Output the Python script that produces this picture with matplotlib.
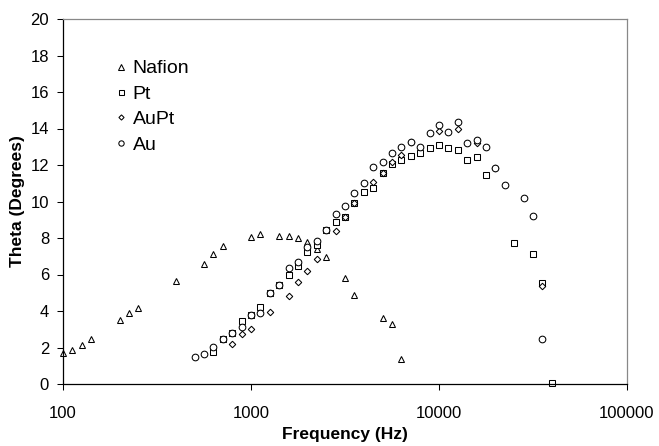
import matplotlib
matplotlib.use("Agg")
import matplotlib.pyplot as plt

plt.rcParams['font.family'] = ['Liberation Sans', 'DejaVu Sans']

# Nafion (triangles)
nafion_freq = [100, 112, 126, 141, 200, 224, 251, 398, 562, 631, 708, 1000, 1122,
               1413, 1585, 1778, 1995, 2239, 2512, 3162, 3548, 5012, 5623, 6310]
nafion_theta = [1.70, 1.85, 2.15, 2.48, 3.53, 3.89, 4.19, 5.63, 6.60, 7.13, 7.55, 8.03, 8.21,
                8.10, 8.10, 7.98, 7.76, 7.37, 6.95, 5.80, 4.88, 3.60, 3.27, 1.35]

# Pt (squares)
pt_freq = [631, 708, 794, 891, 1000, 1122, 1259, 1413, 1585, 1778, 1995, 2239, 2512,
           2818, 3162, 3548, 3981, 4467, 5012, 5623, 6310, 7079, 7943, 8913, 10000,
           11220, 12589, 14125, 15849, 17783, 25119, 31623, 35481, 39811]
pt_theta = [1.75, 2.48, 2.79, 3.45, 3.78, 4.22, 5.00, 5.45, 5.96, 6.49, 7.22, 7.60, 8.43,
            8.89, 9.15, 9.93, 10.50, 10.76, 11.58, 12.06, 12.28, 12.52, 12.65, 12.92, 13.07,
            12.91, 12.82, 12.26, 12.45, 11.45, 7.70, 7.10, 5.52, 0.08]

# AuPt (diamonds)
aupt_freq = [794, 891, 1000, 1259, 1585, 1778, 1995, 2239, 2818, 3162, 3548, 4467,
             5012, 5623, 6310, 7079, 10000, 12589, 15849, 19953, 35481]
aupt_theta = [2.21, 2.76, 3.02, 3.96, 4.84, 5.58, 6.18, 6.85, 8.41, 9.15, 9.93, 11.09,
              11.58, 12.19, 12.57, 13.25, 13.84, 13.95, 13.20, 11.82, 5.36]

# Au (circles)
au_freq = [501, 562, 631, 708, 794, 891, 1000, 1122, 1259, 1413, 1585, 1778, 1995,
           2239, 2512, 2818, 3162, 3548, 3981, 4467, 5012, 5623, 6310, 7079, 7943,
           8913, 10000, 11220, 12589, 14125, 15849, 17783, 19953, 22387, 28184,
           31623, 35481]
au_theta = [1.48, 1.63, 2.02, 2.48, 2.79, 3.13, 3.78, 3.91, 4.99, 5.45, 6.33, 6.68, 7.50,
            7.85, 8.43, 9.31, 9.76, 10.46, 11.02, 11.91, 12.15, 12.66, 13.00, 13.25, 13.01,
            13.75, 14.18, 13.80, 14.33, 13.23, 13.38, 12.99, 11.82, 10.89, 10.19,
            9.22, 2.46]

x_ticks = [100, 1000, 10000, 100000]
x_tick_labels = ['100', '1000', '10000', '100000']
y_ticks = list(range(0, 21, 2))

fig = plt.figure(figsize=(6.59, 4.46), dpi=100)
ax = fig.add_axes([63 / 659, 62 / 446, 564 / 659, 365 / 446])

style = dict(linestyle='none', markerfacecolor='white', markeredgecolor='black',
             markeredgewidth=0.75, clip_on=False)
ax.plot(nafion_freq, nafion_theta, marker='^', markersize=5, label='Nafion', **style)
ax.plot(pt_freq, pt_theta, marker='s', markersize=4.5, label='Pt', **style)
ax.plot(aupt_freq, aupt_theta, marker='D', markersize=3.3, label='AuPt', **style)
ax.plot(au_freq, au_theta, marker='o', markersize=4.8, label='Au', **style)

ax.set_xscale('log')
ax.set_xlim(100, 100000)
ax.set_ylim(0, 20)
ax.set_xticks(x_ticks)
ax.set_xticklabels(x_tick_labels)
ax.minorticks_off()
ax.set_yticks(y_ticks)
ax.tick_params(axis='both', direction='out', length=4, width=0.75, labelsize=12,
               colors='black')
ax.tick_params(axis='x', pad=12)
ax.tick_params(axis='y', pad=6)

for side in ['left', 'bottom']:
    ax.spines[side].set_color('black')
    ax.spines[side].set_linewidth(0.9)
for side in ['top', 'right']:
    ax.spines[side].set_color('#888888')
    ax.spines[side].set_linewidth(0.9)

ax.set_xlabel('Frequency (Hz)', fontsize=12.5, fontweight='bold', labelpad=4)
ax.set_ylabel('Theta (Degrees)', fontsize=12.5, fontweight='bold', labelpad=4)

ax.legend(loc='upper left', bbox_to_anchor=(0.0887, 0.888), frameon=False,
          fontsize=14, borderaxespad=0, borderpad=0, handlelength=0.8,
          handletextpad=0.2, labelspacing=0.4, markerscale=0.8)

fig.savefig('out.png', dpi=100)
